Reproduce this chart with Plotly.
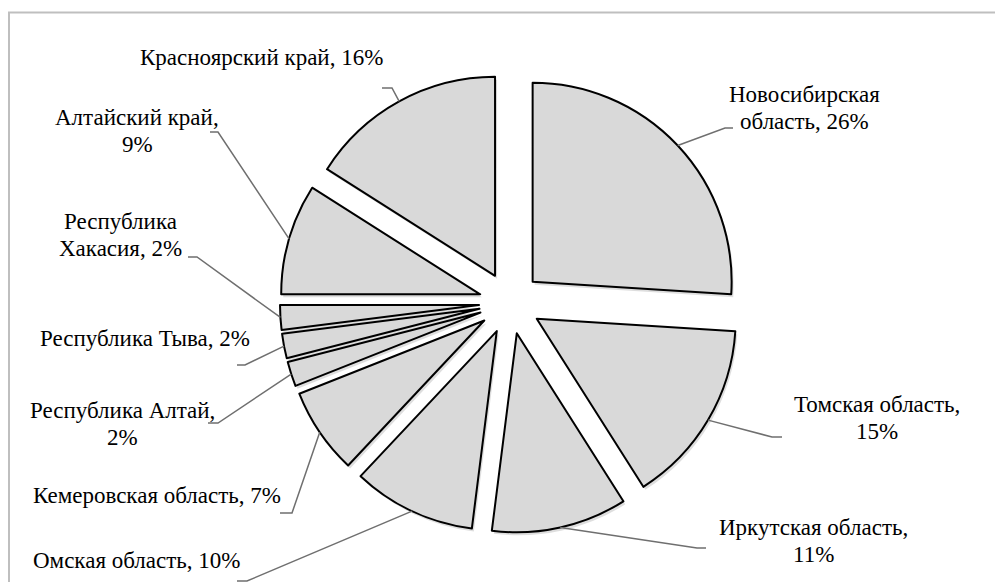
import math
import plotly.graph_objects as go

# Regional shares, clockwise from 12 o'clock
regions = [
    "Новосибирская область", "Томская область", "Иркутская область",
    "Омская область", "Кемеровская область", "Республика Алтай",
    "Республика Тыва", "Республика Хакасия", "Алтайский край",
    "Красноярский край",
]
shares = [26, 15, 11, 10, 7, 2, 2, 2, 9, 16]
# number of words on the first line of each label (0 = single line)
label_break = [1, 2, 2, 0, 0, 2, 0, 1, 2, 0]

# canvas and pie geometry (pixels)
W, H = 995, 582
CX, CY, R = 510, 303, 199
PULL = 0.156

# label placement (pixels): text block centre, leader elbow, leader end
label_xy = [(804, 108), (877, 418), (813, 541), (136, 560), (157, 495),
            (122, 424), (145, 338), (120, 235), (137, 131), (261, 58)]
elbow_xy = [(725, 128), (772, 437), (697, 548), (247, 581), (292, 513),
            (218, 423), (245, 365), (197, 257), (218, 132), (392, 88)]
end_x = [733, 782, 706, 237, 280, 208, 237, 188, 210, 382]

FONT = "Liberation Serif, Times New Roman, serif"
FONT_SIZE = 23
LINE_GAP = 26.5
FILL = "#d9d9d9"


def px(x, y):
    return x / W, 1 - y / H


def label_lines(name, value, n):
    words = f"{name}, {value}%".split(" ")
    if n == 0:
        return [" ".join(words)]
    return [" ".join(words[:n]), " ".join(words[n:])]


half = R * (1 + PULL)


def domain(dx=0, dy=0):
    return dict(
        x=[(CX + dx - half) / W, (CX + dx + half) / W],
        y=[1 - (CY + dy + half) / H, 1 - (CY + dy - half) / H],
    )


fig = go.Figure()

# soft drop shadow under the slices
fig.add_trace(go.Pie(
    labels=regions, values=shares, sort=False, direction="clockwise",
    rotation=0, pull=[PULL] * len(shares), domain=domain(2, 3),
    marker=dict(colors=["rgba(0,0,0,0.13)"] * len(shares), line=dict(width=0)),
    textinfo="none", hoverinfo="skip", showlegend=False,
))

fig.add_trace(go.Pie(
    labels=regions, values=shares, sort=False, direction="clockwise",
    rotation=0, pull=[PULL] * len(shares), domain=domain(),
    marker=dict(colors=[FILL] * len(shares), line=dict(color="#000000", width=2)),
    textinfo="none", hoverinfo="label+percent", showlegend=False,
))

shapes = []
annotations = []
total = sum(shares)
cum = 0
for i, (name, v) in enumerate(zip(regions, shares)):
    theta = math.radians((cum + v / 2) / total * 360)
    cum += v
    ex = CX + half * math.sin(theta)
    ey = CY - half * math.cos(theta)
    p0 = px(ex, ey)
    p1 = px(*elbow_xy[i])
    p2 = px(end_x[i], elbow_xy[i][1])
    shapes.append(dict(
        type="path", xref="paper", yref="paper",
        path=f"M {p0[0]},{p0[1]} L {p1[0]},{p1[1]} L {p2[0]},{p2[1]}",
        line=dict(color="#6f6f6f", width=1.5),
    ))
    lines = label_lines(name, v, label_break[i])
    cx_, cy_ = label_xy[i]
    top = cy_ - LINE_GAP * (len(lines) - 1) / 2
    for k, line in enumerate(lines):
        lx, ly = px(cx_, top + k * LINE_GAP)
        annotations.append(dict(
            x=lx, y=ly, xref="paper", yref="paper", showarrow=False,
            text=line, xanchor="center", yanchor="middle",
            font=dict(family=FONT, size=FONT_SIZE, color="#000000"),
        ))

# chart frame
shapes.append(dict(
    type="rect", xref="paper", yref="paper",
    x0=9 / W, x1=1.02, y0=-0.05, y1=1 - 12.5 / H,
    line=dict(color="#bfbfbf", width=2), fillcolor="rgba(0,0,0,0)",
))

fig.update_layout(
    width=W, height=H,
    margin=dict(l=0, r=0, t=0, b=0),
    paper_bgcolor="#ffffff", plot_bgcolor="#ffffff",
    shapes=shapes, annotations=annotations,
    font=dict(family=FONT),
)

fig.write_html("out.html")
